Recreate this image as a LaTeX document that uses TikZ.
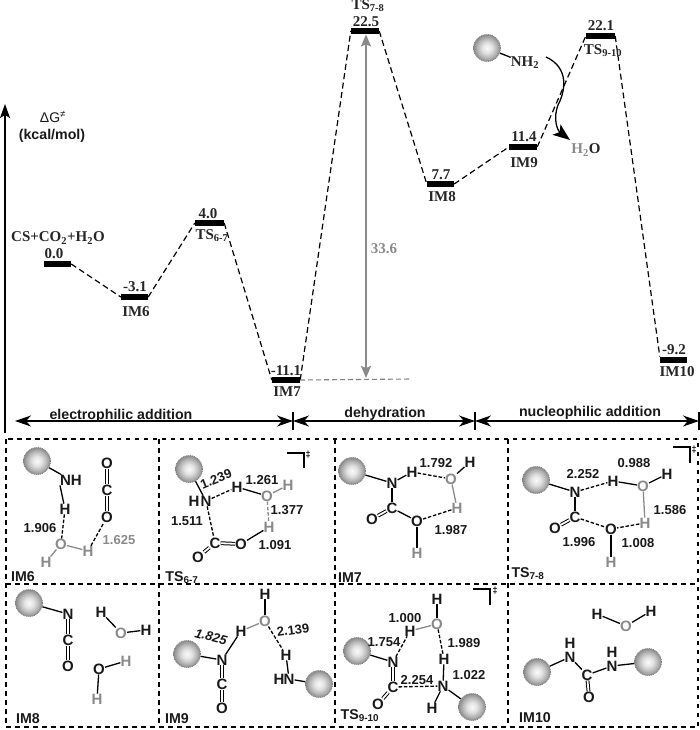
\documentclass[tikz,border=0pt]{standalone}
\usepackage{fontspec}
\setmainfont{Liberation Serif}
\setsansfont{Liberation Sans}
\usetikzlibrary{arrows.meta}
\definecolor{atomgray}{HTML}{8A8A8A}
\pgfdeclareradialshading{cball}{\pgfpoint{0bp}{0bp}}{color(0bp)=(white!96!gray); color(9bp)=(gray!22!white); color(18bp)=(gray!58!white); color(25bp)=(gray!92!white); color(50bp)=(gray)}
\tikzset{
 x=1pt,y=-1pt,
 bar/.style={fill=black,minimum width=27pt,minimum height=6.5pt,inner sep=0pt},
 lvl/.style={font=\fontsize{15}{15}\selectfont\bfseries,inner sep=0pt,text=black!85},
 conn/.style={line width=1.2pt,dash pattern=on 6pt off 3.5pt},
 panel/.style={line width=1.6pt,dash pattern=on 4.5pt off 4.5pt},
 phase/.style={line width=1.2pt,{Stealth[length=16pt,width=11pt,inset=5pt]}-{Stealth[length=16pt,width=11pt,inset=5pt]}},
 sanslab/.style={font=\sffamily\bfseries\fontsize{14.2}{15}\selectfont,inner sep=0pt,text=black!90},
 atm/.style={font=\sffamily\bfseries\fontsize{15}{15}\selectfont,inner sep=0pt,text=black!90},
 gatm/.style={atm,text=atomgray},
 dist/.style={font=\sffamily\bfseries\fontsize{13}{13}\selectfont,inner sep=0pt,text=black!90},
 ball/.style={circle,minimum size=27pt,inner sep=0pt,shading=cball,draw=gray,densely dotted,line width=0.9pt},
 bnd/.style={line width=1.3pt},
 gbnd/.style={line width=1.3pt,draw=atomgray},
 hb/.style={line width=1.3pt,dash pattern=on 3.5pt off 1.8pt},
 dbl/.style={line width=1pt,double,double distance=1.8pt},
 dag/.style={font=\sffamily\bfseries\fontsize{9}{9}\selectfont,inner sep=0pt},
 brk/.style={line width=1.4pt},
}
\newcommand{\sub}[1]{\textsubscript{#1}}
\begin{document}
\begin{tikzpicture}
\useasboundingbox (0,0) rectangle (700,730);
% axis
\coordinate (axb) at (5,433); \coordinate (axt) at (5,104);
\draw[line width=1.2pt,-{Stealth[length=14pt,width=10pt,inset=3pt]}] (axb) -- (axt);
\node[sanslab,font=\sffamily\fontsize{14}{15}\selectfont] (dg) at (53,117) {ΔG\textsuperscript{≠}};
\node[sanslab] (unit) at (52,136) {(kcal/mol)};
% levels
\node[bar] (l0) at (57.5,264) {};
\node[bar] (l6) at (134.5,297) {};
\node[bar,minimum width=29pt] (lt67) at (209.5,223) {};
\node[bar,minimum width=28pt] (l7) at (286,380) {};
\node[bar,minimum width=28pt] (lt78) at (365,31) {};
\node[bar] (l8) at (440.5,184) {};
\node[bar,minimum width=28pt] (l9) at (523,147) {};
\node[bar,minimum width=29pt] (lt910) at (600.5,36) {};
\node[bar] (l10) at (673.5,360) {};
\draw[conn] (l0.east) -- (l6.west);
\draw[conn] (l6.east) -- (lt67.west);
\draw[conn] (lt67.east) -- (l7.west);
\draw[conn] (l7.east) -- (lt78.west);
\draw[conn] (lt78.east) -- (l8.west);
\draw[conn] (l8.east) -- (l9.west);
\draw[conn] (l9.east) -- (lt910.west);
\draw[conn] (lt910.east) -- (l10.north west);
% level labels
\node[lvl] (t0a) at (58,238) {CS+CO\sub{2}+H\sub{2}O};
\node[lvl] (t0) at (54,254) {0.0};
\node[lvl] (t6v) at (135,287) {-3.1};
\node[lvl] (t6) at (136,312) {IM6};
\node[lvl] (t67v) at (208,214) {4.0};
\node[lvl] (t67) at (212,236) {TS\sub{6-7}};
\node[lvl] (t7v) at (286,371) {-11.1};
\node[lvl] (t7) at (287,392) {IM7};
\node[lvl] (t78) at (368,6) {TS\sub{7-8}};
\node[lvl] (t78v) at (366,22) {22.5};
\node[lvl] (t8v) at (441,175) {7.7};
\node[lvl] (t8) at (442,197) {IM8};
\node[lvl] (t9v) at (524,137) {11.4};
\node[lvl] (t9) at (524,163) {IM9};
\node[lvl] (t910v) at (601,26) {22.1};
\node[lvl] (t910) at (603,51) {TS\sub{9-10}};
\node[lvl] (t10v) at (674,350) {-9.2};
\node[lvl] (t10) at (677,372) {IM10};
% barrier
\coordinate (br) at (366,378);
\coordinate (dge) at (412,379);
\draw[gray,line width=1.1pt,dash pattern=on 5pt off 3pt] (l7.east) -- (dge);
\draw[line width=1.6pt,draw=atomgray,{Stealth[length=12pt,width=10pt,inset=2pt]}-{Stealth[length=12pt,width=10pt,inset=2pt]}] (lt78.south -| br) -- (br);
\node[lvl,text=atomgray] (v336) at (384,249) {33.6};
% amine
\node[ball] (nb) at (487,48) {};
\node[lvl] (nh2) at (525,63) {NH\sub{2}};
\draw[bnd] (nb) -- (nh2);
\coordinate (cv1) at (546,57); \coordinate (cv2) at (570,140);
\draw[line width=1.3pt,-{Stealth[length=17pt,width=13pt,inset=4pt]}] (cv1) .. controls (570,68) and (565,92) .. (558,105) .. controls (553,118) and (557,130) .. (cv2);
\node[lvl] (w) at (586,150) {\textcolor{atomgray}{H\sub{2}}O};
% phases
\coordinate (p0) at (15,421); \coordinate (p1) at (293,421); \coordinate (p2) at (475,421); \coordinate (p3) at (699,421);
\draw[phase] (p0) -- (p1);
\draw[phase] (p1) -- (p2);
\draw[phase] (p2) -- (p3);
\draw[line width=1.2pt] (293,412) -- (293,430);
\draw[line width=1.2pt] (475,412) -- (475,430);
\draw[line width=1.2pt] (699,412) -- (699,430);
\node[sanslab] (ph1) at (121,416) {electrophilic addition};
\node[sanslab] (ph2) at (385,414) {dehydration};
\node[sanslab] (ph3) at (590,413) {nucleophilic addition};
% panels
\draw[panel] (6,439) rectangle (698,727);
\draw[panel] (6,584) -- (698,584);
\draw[panel] (159,439) -- (159,727);
\draw[panel] (335,439) -- (335,727);
\draw[panel] (508,439) -- (508,727);
% IM6
\node[ball] (a1) at (37,461) {};
\node[atm] (a2) at (71,480) {NH};
\node[atm] (a3) at (65,509) {H};
\node[gatm] (a4) at (61,544) {O};
\node[gatm] (a5) at (46,562) {H};
\node[gatm] (a6) at (88,551) {H};
\node[atm] (a7) at (107,463) {O};
\node[atm] (a8) at (107,490) {C};
\node[atm] (a9) at (107,517) {O};
\draw[bnd] (a1) -- (a2); \draw[bnd] (a2.south west) -- (a3);
\draw[hb] (a3) -- (a4); \draw[gbnd] (a4) -- (a5); \draw[gbnd] (a4) -- (a6);
\draw[hb] (a6) -- (a9); \draw[dbl] (a7) -- (a8); \draw[dbl] (a8) -- (a9);
\node[dist] (a10) at (40,528) {1.906};
\node[dist,text=atomgray] (a11) at (119,540) {1.625};
\node[sanslab] (a12) at (23,577) {IM6};
% TS6-7
\node[ball] (b1) at (189,469) {};
\node[atm] (b2) at (206,501) {N};
\node[atm] (b3) at (194,501) {H};
\node[atm] (b4) at (237,487) {H};
\node[gatm] (b5) at (267,496) {O};
\node[gatm] (b6) at (288,485) {H};
\node[gatm] (b7) at (269,527) {H};
\node[atm] (b8) at (215,543) {C};
\node[atm] (b9) at (241,544) {O};
\node[atm] (b10) at (198,557) {O};
\draw[bnd] (b1) -- (b2); \draw[hb] (b2) -- (b4); \draw[bnd] (b4) -- (b5);
\draw[gbnd] (b5) -- (b6); \draw[hb,draw=atomgray] (b5) -- (b7);
\draw[bnd] (b7) -- (b9); \draw[hb] (b2) -- (b8);
\draw[dbl] (b8) -- (b9); \draw[dbl] (b8) -- (b10);
\node[dist,rotate=22] (b11) at (216,479) {1.239};
\node[dist] (b12) at (262,480) {1.261};
\node[dist] (b13) at (287,510) {1.377};
\node[dist] (b14) at (187,521) {1.511};
\node[dist] (b15) at (275,545) {1.091};
\node[sanslab] (b16) at (182,578) {TS\sub{6-7}};
\draw[brk] (287,453) -- (304,453) -- (304,468);
\node[dag] (b17) at (308,455) {‡};
% IM7
\node[ball] (c1) at (352,471) {};
\node[atm] (c2) at (392,483) {N};
\node[atm] (c3) at (412,472) {H};
\node[gatm] (c4) at (451,479) {O};
\node[atm] (c5) at (470,462) {H};
\node[gatm] (c6) at (457,508) {H};
\node[atm] (c7) at (392,508) {C};
\node[atm] (c8) at (372,519) {O};
\node[atm] (c9) at (417,521) {O};
\node[gatm] (c10) at (417,553) {H};
\draw[bnd] (c1) -- (c2); \draw[bnd] (c2) -- (c3); \draw[hb] (c3) -- (c4);
\draw[bnd] (c4) -- (c5); \draw[gbnd] (c4) -- (c6); \draw[hb] (c6) -- (c9);
\draw[bnd] (c2) -- (c7); \draw[dbl] (c7) -- (c8); \draw[bnd] (c7) -- (c9);
\draw[bnd] (c9) -- (c10);
\node[dist] (c11) at (436,463) {1.792};
\node[dist] (c12) at (451,530) {1.987};
\node[sanslab] (c13) at (350,578) {IM7};
% TS7-8
\node[ball] (d1) at (536,480) {};
\node[atm] (d2) at (575,492) {N};
\node[atm] (d3) at (613,481) {H};
\node[gatm] (d4) at (643,486) {O};
\node[atm] (d5) at (667,474) {H};
\node[gatm] (d6) at (645,523) {H};
\node[atm] (d7) at (575,517) {C};
\node[atm] (d8) at (555,528) {O};
\node[atm] (d9) at (611,529) {O};
\node[gatm] (d10) at (611,562) {H};
\draw[bnd] (d1) -- (d2); \draw[hb] (d2) -- (d3); \draw[bnd] (d3) -- (d4);
\draw[bnd] (d4) -- (d5); \draw[gbnd] (d4) -- (d6); \draw[hb] (d6) -- (d9);
\draw[bnd] (d2) -- (d7); \draw[dbl] (d7) -- (d8); \draw[hb] (d7) -- (d9);
\draw[bnd] (d9) -- (d10);
\node[dist] (d11) at (583,474) {2.252};
\node[dist] (d12) at (634,463) {0.988};
\node[dist] (d13) at (670,510) {1.586};
\node[dist] (d14) at (579,542) {1.996};
\node[dist] (d15) at (638,543) {1.008};
\node[sanslab] (d16) at (528,574) {TS\sub{7-8}};
\draw[brk] (673,447) -- (690,447) -- (690,463);
\node[dag] (d17) at (694,450) {‡};
% IM8
\node[ball] (e1) at (29,603) {};
\node[atm] (e2) at (68,614) {N};
\node[atm] (e3) at (68,640) {C};
\node[atm] (e4) at (68,666) {O};
\node[atm] (e5) at (101,612) {H};
\node[gatm] (e6) at (121,633) {O};
\node[atm] (e7) at (146,630) {H};
\node[atm] (e8) at (99,669) {O};
\node[gatm] (e9) at (126,661) {H};
\node[gatm] (e10) at (97,699) {H};
\draw[bnd] (e1) -- (e2); \draw[dbl] (e2) -- (e3); \draw[dbl] (e3) -- (e4);
\draw[bnd] (e5) -- (e6); \draw[bnd] (e6) -- (e7);
\draw[bnd] (e8) -- (e9); \draw[bnd] (e8) -- (e10);
\node[sanslab] (e11) at (28,719) {IM8};
% IM9
\node[ball] (f1) at (187,654) {};
\node[atm] (f2) at (222,660) {N};
\node[atm] (f3) at (222,684) {C};
\node[atm] (f4) at (222,708) {O};
\node[atm] (f5) at (241,631) {H};
\node[gatm] (f6) at (265,621) {O};
\node[atm] (f7) at (265,594) {H};
\node[atm] (f8) at (286,655) {H};
\node[atm] (f9) at (289,679) {N};
\node[atm] (f10) at (279,679) {H};
\node[ball] (f11) at (319,684) {};
\draw[bnd] (f1) -- (f2); \draw[dbl] (f2) -- (f3); \draw[dbl] (f3) -- (f4);
\draw[bnd] (f2) -- (f5); \draw[gbnd] (f5) -- (f6); \draw[bnd] (f6) -- (f7);
\draw[hb] (f6) -- (f8); \draw[bnd] (f8) -- (f9); \draw[bnd] (f9) -- (f11);
\node[dist,rotate=-15,font=\sffamily\bfseries\itshape\fontsize{13}{13}\selectfont] (f12) at (211,637) {1.825};
\node[dist,rotate=8] (f13) at (293,630) {2.139};
\node[sanslab] (f14) at (177,719) {IM9};
% TS9-10
\node[ball] (g1) at (357,651) {};
\node[atm] (g2) at (393,662) {N};
\node[atm] (g3) at (393,687) {C};
\node[atm] (g4) at (378,704) {O};
\node[atm] (g5) at (410,631) {H};
\node[gatm] (g6) at (437,624) {O};
\node[atm] (g7) at (437,599) {H};
\node[atm] (g8) at (444,659) {H};
\node[atm] (g9) at (443,686) {N};
\node[atm] (g10) at (432,708) {H};
\node[ball] (g11) at (472,707) {};
\draw[bnd] (g1) -- (g2); \draw[dbl] (g2) -- (g3); \draw[dbl] (g3) -- (g4);
\draw[hb] (g2) -- (g5); \draw[gbnd] (g5) -- (g6); \draw[bnd] (g6) -- (g7);
\draw[hb] (g6) -- (g8); \draw[bnd] (g8) -- (g9); \draw[hb] (g3) -- (g9);
\draw[bnd] (g9) -- (g10); \draw[bnd] (g9) -- (g11);
\node[dist] (g12) at (405,618) {1.000};
\node[dist] (g13) at (384,642) {1.754};
\node[dist] (g14) at (464,643) {1.989};
\node[dist] (g15) at (469,675) {1.022};
\node[dist] (g16) at (417,680) {2.254};
\node[sanslab] (g17) at (360,716) {TS\sub{9-10}};
\draw[brk] (473,589) -- (490,589) -- (490,605);
\node[dag] (g18) at (495,591) {‡};
% IM10
\node[atm] (h1) at (597,614) {H};
\node[gatm] (h2) at (626,626) {O};
\node[atm] (h3) at (651,611) {H};
\node[ball] (h4) at (537,672) {};
\node[atm] (h5) at (570,657) {N};
\node[atm] (h6) at (570,643) {H};
\node[atm] (h7) at (587,675) {C};
\node[atm] (h8) at (589,697) {O};
\node[atm] (h9) at (612,666) {N};
\node[atm] (h10) at (612,652) {H};
\node[ball] (h11) at (648,662) {};
\draw[bnd] (h1) -- (h2); \draw[bnd] (h2) -- (h3);
\draw[bnd] (h4) -- (h5); \draw[bnd] (h5) -- (h7); \draw[dbl] (h7) -- (h8);
\draw[bnd] (h7) -- (h9); \draw[bnd] (h9) -- (h11);
\node[sanslab] (h12) at (535,718) {IM10};
\end{tikzpicture}
\end{document}
